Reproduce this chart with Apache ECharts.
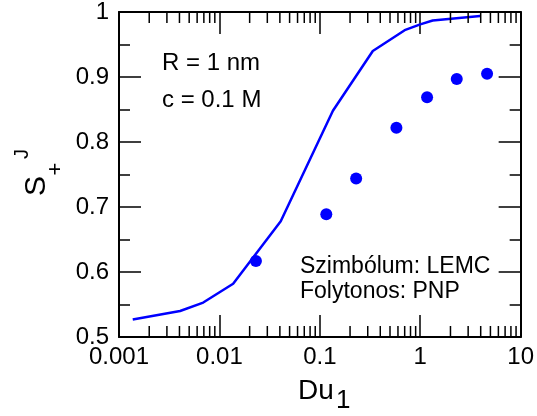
<!DOCTYPE html>
<html>
<head>
<meta charset="utf-8">
<script src="https://cdn.jsdelivr.net/npm/echarts@6/dist/echarts.min.js"></script>
<style>
html,body{margin:0;padding:0;background:#fff;}
#chart{width:537px;height:416px;}
</style>
</head>
<body>
<div id="chart"></div>
<script>
// PNP (solid line)
const pnpX = [0.00137, 0.00406, 0.0069, 0.0137, 0.0408, 0.135, 0.337, 0.70, 1.0, 1.33, 3.95];
const pnpY = [0.527, 0.540, 0.553, 0.582, 0.678, 0.848, 0.940, 0.972, 0.981, 0.987, 0.994];
// LEMC (symbols)
const lemcX = [0.0231, 0.116, 0.230, 0.579, 1.17, 2.31, 4.63];
const lemcY = [0.617, 0.689, 0.744, 0.822, 0.869, 0.897, 0.905];
// tick labels
const xTickLabels = ['0.001', '0.01', '0.1', '1', '10'];
const yTickLabels = ['0.5', '0.6', '0.7', '0.8', '0.9', '1'];
const xMinorTicks = [];
[0.001, 0.01, 0.1, 1].forEach(d => { for (let k = 2; k <= 9; k++) xMinorTicks.push(+(d * k).toPrecision(3)); });

const FONT = '"Liberation Sans", Arial, Helvetica, sans-serif';
const chart = echarts.init(document.getElementById('chart'), null, {renderer: 'canvas'});

const xBase = {
  type: 'log', logBase: 10, min: 0.001, max: 10,
  axisLine: {show: true, onZero: false, lineStyle: {color: '#000', width: 2}},
  axisTick: {show: true, inside: true, length: 22, lineStyle: {color: '#000', width: 1.5}},
  splitLine: {show: false}, minorTick: {show: false}
};
const yBase = {
  type: 'value', min: 0.5, max: 1, interval: 0.1,
  axisLine: {show: true, onZero: false, lineStyle: {color: '#000', width: 2}},
  axisTick: {show: true, inside: true, length: 22, lineStyle: {color: '#000', width: 1.5}},
  minorTick: {show: true, splitNumber: 2, length: 11, lineStyle: {color: '#000', width: 1.5}},
  splitLine: {show: false}, minorSplitLine: {show: false}
};

chart.setOption({
  animation: false,
  backgroundColor: '#fff',
  grid: {left: 119, right: 15, top: 10, bottom: 79, containLabel: false},
  xAxis: [
    Object.assign({}, xBase, {position: 'bottom',
      axisLabel: {show: true, margin: 8, color: '#000', fontSize: 24, fontFamily: FONT,
        showMinLabel: true, showMaxLabel: true,
        formatter: (v, i) => xTickLabels[i] !== undefined ? xTickLabels[i] : String(v)}}),
    Object.assign({}, xBase, {position: 'top', axisLabel: {show: false}})
  ],
  yAxis: [
    Object.assign({}, yBase, {position: 'left',
      axisLabel: {show: true, margin: 10, color: '#000', fontSize: 24, fontFamily: FONT,
        showMinLabel: true, showMaxLabel: true,
        formatter: (v, i) => yTickLabels[i] !== undefined ? yTickLabels[i] : String(v)}}),
    Object.assign({}, yBase, {position: 'right', axisLabel: {show: false}})
  ],
  series: [
    {
      type: 'line', xAxisIndex: 0, yAxisIndex: 0,
      data: pnpX.map((x, i) => [x, pnpY[i]]),
      showSymbol: false, symbol: 'none',
      lineStyle: {color: '#0000ff', width: 2.5, opacity: 1}, z: 3
    },
    {
      type: 'scatter', xAxisIndex: 0, yAxisIndex: 0,
      data: lemcX.map((x, i) => [x, lemcY[i]]),
      symbol: 'circle', symbolSize: 12,
      itemStyle: {color: '#0000ff', opacity: 1}, z: 4
    },
    {
      type: 'custom', xAxisIndex: 0, yAxisIndex: 0, clip: false, silent: true,
      data: xMinorTicks.map(v => [v, 0.5]),
      encode: {x: 0, y: 1},
      renderItem: function (params, api) {
        const v = api.value(0);
        const pb = api.coord([v, 0.5]);
        const pt = api.coord([v, 1]);
        const st = {stroke: '#000', lineWidth: 1.5};
        return {type: 'group', children: [
          {type: 'line', shape: {x1: pb[0], y1: pb[1], x2: pb[0], y2: pb[1] - 11}, style: st},
          {type: 'line', shape: {x1: pt[0], y1: pt[1], x2: pt[0], y2: pt[1] + 11}, style: st}
        ]};
      }, z: 5
    }
  ],
  graphic: [
    {type: 'text', x: 162, y: 63, style: {text: 'R = 1 nm', font: '24px ' + FONT, fill: '#000', textAlign: 'left', textVerticalAlign: 'middle'}},
    {type: 'text', x: 162, y: 100, style: {text: 'c = 0.1 M', font: '24px ' + FONT, fill: '#000', textAlign: 'left', textVerticalAlign: 'middle'}},
    {type: 'text', x: 300, y: 267, style: {text: 'Szimbólum: LEMC', font: '23px ' + FONT, fill: '#000', textAlign: 'left', textVerticalAlign: 'middle'}},
    {type: 'text', x: 300, y: 292, style: {text: 'Folytonos: PNP', font: '23px ' + FONT, fill: '#000', textAlign: 'left', textVerticalAlign: 'middle'}},
    {type: 'text', x: 298, y: 391, style: {text: 'Du', font: '28px ' + FONT, fill: '#000', textAlign: 'left', textVerticalAlign: 'middle'}},
    {type: 'text', x: 336, y: 401, style: {text: '1', font: '26px ' + FONT, fill: '#000', textAlign: 'left', textVerticalAlign: 'middle'}},
    {type: 'text', x: 37, y: 186, rotation: Math.PI / 2, style: {text: 'S', font: '30px ' + FONT, fill: '#000', textAlign: 'center', textVerticalAlign: 'middle'}},
    {type: 'text', x: 56, y: 169, rotation: Math.PI / 2, style: {text: '+', font: '22px ' + FONT, fill: '#000', textAlign: 'center', textVerticalAlign: 'middle'}},
    {type: 'text', x: 22, y: 154, rotation: Math.PI / 2, style: {text: 'J', font: '20px ' + FONT, fill: '#000', textAlign: 'center', textVerticalAlign: 'middle'}}
  ]
});
</script>
</body>
</html>
